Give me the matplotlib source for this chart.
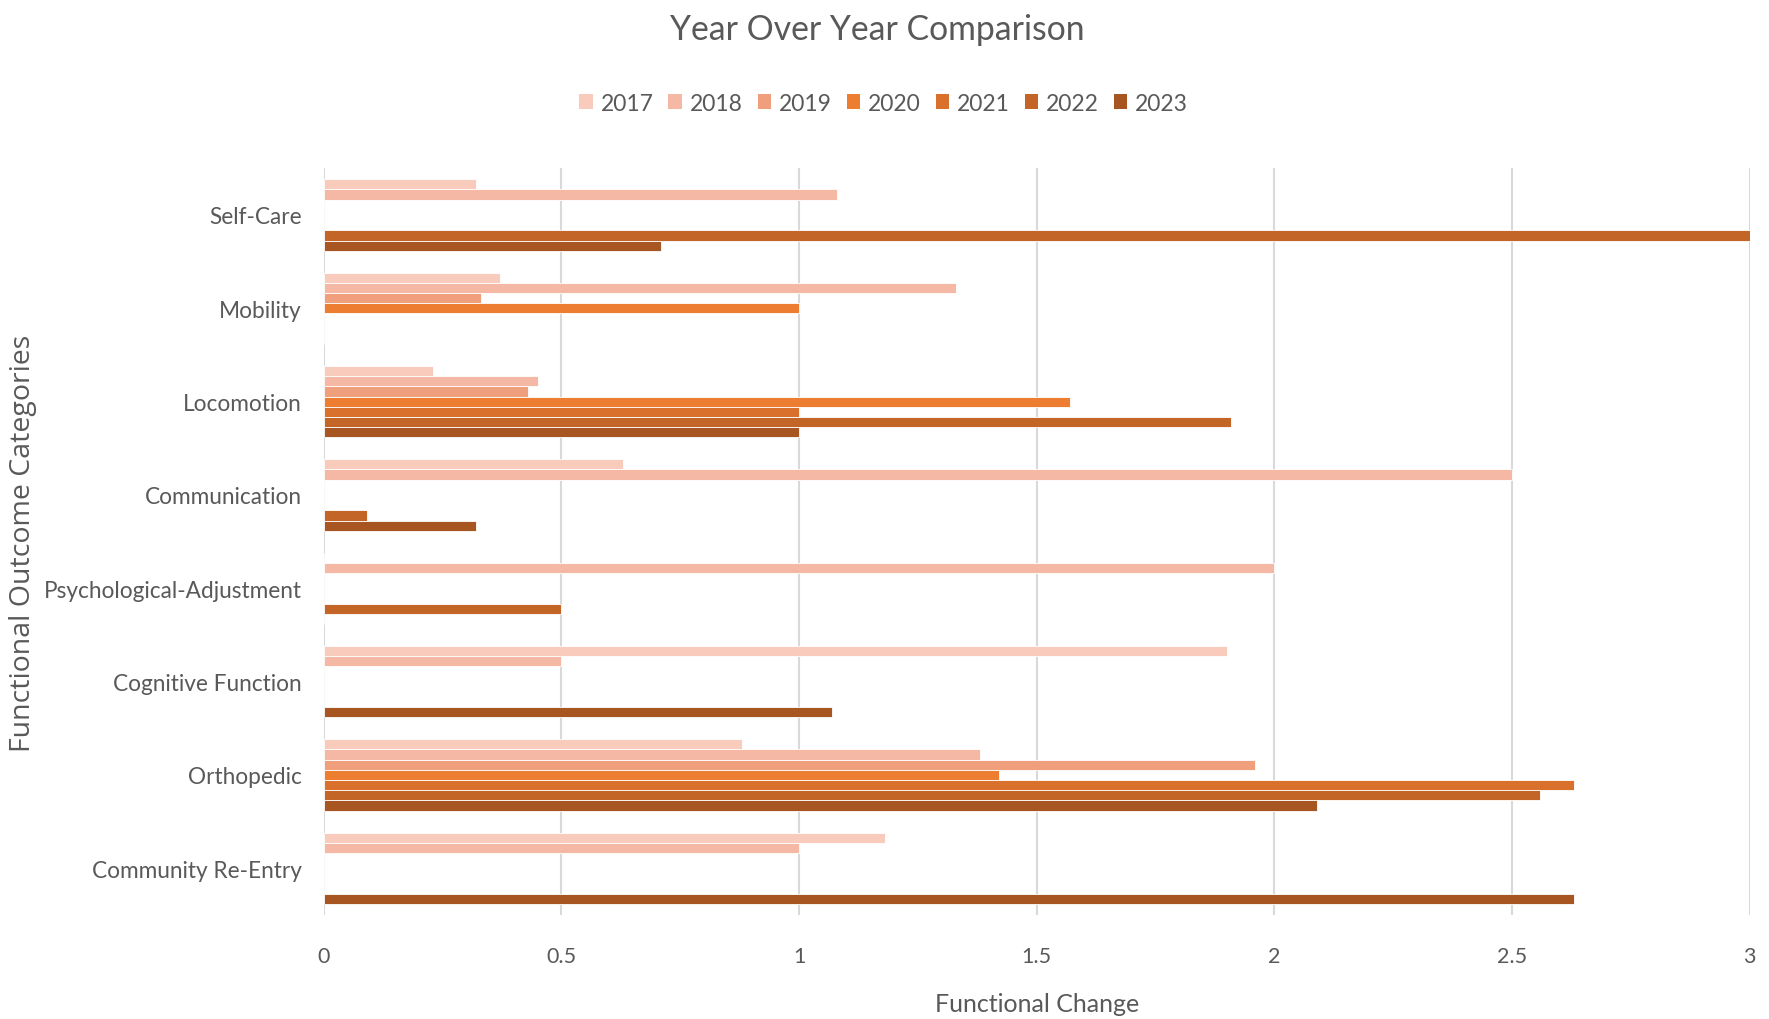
import numpy as np
import matplotlib
matplotlib.use("Agg")
from matplotlib import pyplot as plt
from matplotlib.patches import Patch

plt.rcParams['font.family'] = ['Lato', 'DejaVu Sans']

categories = ['Self-Care', 'Mobility', 'Locomotion', 'Communication',
              'Psychological-Adjustment', 'Cognitive Function', 'Orthopedic',
              'Community Re-Entry']
years = ['2017', '2018', '2019', '2020', '2021', '2022', '2023']

# functional change per year, one value per category (0 = no bar)
y2017 = [0.32, 0.37, 0.23, 0.63, 0.00, 1.90, 0.88, 1.18]
y2018 = [1.08, 1.33, 0.45, 2.50, 2.00, 0.50, 1.38, 1.00]
y2019 = [0.00, 0.33, 0.43, 0.00, 0.00, 0.00, 1.96, 0.00]
y2020 = [0.00, 1.00, 1.57, 0.00, 0.00, 0.00, 1.42, 0.00]
y2021 = [0.00, 0.00, 1.00, 0.00, 0.00, 0.00, 2.63, 0.00]
y2022 = [3.00, 0.00, 1.91, 0.09, 0.50, 0.00, 2.56, 0.00]
y2023 = [0.71, 0.00, 1.00, 0.32, 0.00, 1.07, 2.09, 2.63]
series = [y2017, y2018, y2019, y2020, y2021, y2022, y2023]

colors = ['#F8CBBD', '#F4B8A5', '#F09F7D', '#ED7D31', '#D9702C', '#C46528', '#A75622']
grey = '#595959'

fig = plt.figure(figsize=(17.69, 10.2), dpi=100)
ax = fig.add_axes([0.183, 0.102, 0.806, 0.732])

n = len(years)
h = 1 / 9.14
pos = np.arange(len(categories))
for i, (vals, c) in enumerate(zip(series, colors)):
    offs = (i - (n - 1) / 2) * h
    ax.barh(pos + offs, vals, height=h, color=c, edgecolor='white', linewidth=0.6)

ax.set_xlim(0, 3)
ax.set_ylim(len(categories) - 0.5, -0.5)
ax.set_xticks(np.arange(0, 3.01, 0.5))
ax.set_xticklabels(['0', '0.5', '1', '1.5', '2', '2.5', '3'])
ax.set_yticks(pos)
ax.set_yticklabels(categories)
ax.tick_params(length=0, colors=grey)
ax.tick_params(axis='x', pad=22, labelsize=15.5)
ax.tick_params(axis='y', pad=16, labelsize=16.3)
ax.grid(axis='x', color='#D9D9D9', linewidth=1.5)
ax.set_axisbelow(True)
for s in ax.spines.values():
    s.set_visible(False)

fig.text(0.496, 0.971, 'Year Over Year Comparison', ha='center', va='center',
         fontsize=24.3, color=grey)
fig.text(0.586, 0.015, 'Functional Change', ha='center', va='center',
         fontsize=18, color=grey)
fig.text(0.0128, 0.467, 'Functional Outcome Categories', rotation=90, ha='center',
         va='center', fontsize=20.5, color=grey, family='Open Sans')

handles = [Patch(facecolor=c, edgecolor='none') for c in colors]
fig.legend(handles, years, loc='center', bbox_to_anchor=(0.4995, 0.898), ncol=7,
           frameon=False, fontsize=16.5, labelcolor=grey, handlelength=0.6,
           handleheight=0.6, handletextpad=0.33, columnspacing=0.65)

plt.savefig('out.png', dpi=100)
